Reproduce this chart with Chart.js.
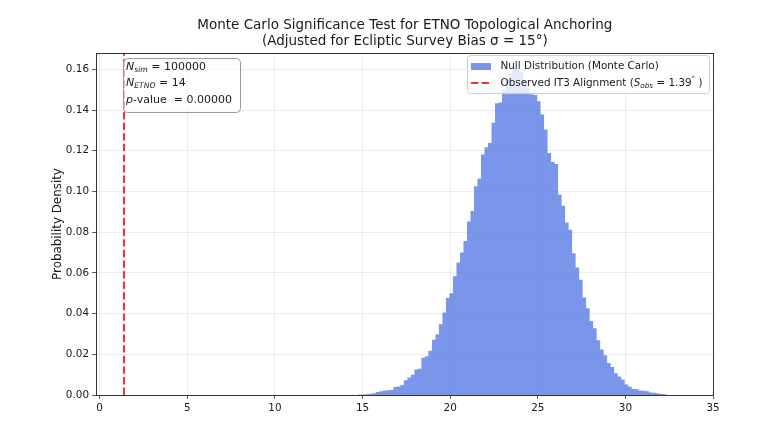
<!DOCTYPE html>
<html>
<head>
<meta charset="utf-8">
<script src="https://cdn.jsdelivr.net/npm/chart.js@4.4.1/dist/chart.umd.min.js"></script>
<style>
  html, body { margin: 0; padding: 0; background: #fff; }
  #wrap { width: 783px; height: 435px; }
</style>
</head>
<body>
<div id="wrap"><canvas id="mcChart"></canvas></div>
<script>
/** Monte Carlo null distribution (density per 0.2 bin) */
const binStart = 14.76;
const binWidth = 0.2;
const nullDensity = [
  0.0002, 0.0003, 0.0004, 0.0006, 0.0009, 0.0015, 0.0019, 0.0022, 0.0023, 0.0025,
  0.0039, 0.0042, 0.0049, 0.0072, 0.0086, 0.0100, 0.0125, 0.0129, 0.0183, 0.0190,
  0.0217, 0.0271, 0.0299, 0.0348, 0.0405, 0.0476, 0.0500, 0.0583, 0.0651, 0.0700,
  0.0756, 0.0852, 0.0904, 0.1025, 0.1063, 0.1181, 0.1217, 0.1238, 0.1337, 0.1433,
  0.1437, 0.1500, 0.1550, 0.1580, 0.1610, 0.1600, 0.1585, 0.1545, 0.1510, 0.1478,
  0.1474, 0.1443, 0.1378, 0.1304, 0.1189, 0.1145, 0.1135, 0.0984, 0.0930, 0.0848,
  0.0812, 0.0697, 0.0626, 0.0566, 0.0479, 0.0426, 0.0363, 0.0328, 0.0269, 0.0223,
  0.0195, 0.0157, 0.0137, 0.0107, 0.0091, 0.0076, 0.0051, 0.0041, 0.0030, 0.0028,
  0.0022, 0.0021, 0.0019, 0.0012, 0.0011, 0.0009, 0.0005, 0.0004,
];
const observedS = 1.39;
const nSim = 100000;
const nEtno = 14;
const pValue = 0.0;

const xTicks = [0, 5, 10, 15, 20, 25, 30, 35];
const yTicks = [0, 0.02, 0.04, 0.06, 0.08, 0.1, 0.12, 0.14, 0.16];
const xMin = -0.21;
const xMax = 35;
const yMax = 0.168;

const FONT = '"DejaVu Sans", sans-serif';
const TEXT = '#1a1a1a';

// step outline of the histogram: one point per left bin edge + closing edge
const histPoints = nullDensity.map((h, i) => ({ x: binStart + i * binWidth, y: h }));
histPoints.push({ x: binStart + nullDensity.length * binWidth, y: 0 });

// text with italic / subscript pieces (mathtext look-alike)
function drawRich(ctx, x, y, runs, size) {
  runs.forEach((r) => {
    const s = r.sub || r.sup ? size * 0.7 : size;
    ctx.font = (r.italic ? 'italic ' : '') + s + 'px ' + FONT;
    const dy = r.sub ? size * 0.28 : r.sup ? -size * 0.35 : 0;
    ctx.fillText(r.t, x, y + dy);
    x += ctx.measureText(r.t).width;
  });
}

function roundRect(ctx, x, y, w, h, r) {
  ctx.beginPath();
  ctx.moveTo(x + r, y);
  ctx.arcTo(x + w, y, x + w, y + h, r);
  ctx.arcTo(x + w, y + h, x, y + h, r);
  ctx.arcTo(x, y + h, x, y, r);
  ctx.arcTo(x, y, x + w, y, r);
  ctx.closePath();
}

/** axes frame (all four spines) */
const framePlugin = {
  id: 'frame',
  afterDatasetsDraw(chart) {
    const { ctx, chartArea: a } = chart;
    ctx.save();
    ctx.strokeStyle = '#333';
    ctx.lineWidth = 1;
    ctx.strokeRect(Math.round(a.left) + 0.5, Math.round(a.top) + 0.5,
      Math.round(a.right - a.left), Math.round(a.bottom - a.top));
    ctx.restore();
  },
};

/** legend + stats box */
const overlayPlugin = {
  id: 'overlay',
  afterDraw(chart) {
    const { ctx, chartArea: a } = chart;
    const ds = chart.data.datasets;
    ctx.save();
    ctx.textBaseline = 'middle';
    ctx.textAlign = 'left';

    // legend
    const lx = a.right - 246, ly = a.top + 2, lw = 242, lh = 38;
    roundRect(ctx, lx + 0.5, ly + 0.5, lw, lh, 3);
    ctx.fillStyle = 'rgba(255,255,255,0.8)';
    ctx.fill();
    ctx.strokeStyle = '#cccccc';
    ctx.lineWidth = 1;
    ctx.stroke();

    ctx.fillStyle = ds[0].backgroundColor;
    ctx.fillRect(lx + 4, ly + 8, 20, 7);
    ctx.strokeStyle = ds[1].borderColor;
    ctx.lineWidth = 2;
    ctx.setLineDash([7.4, 3.2]);
    ctx.beginPath();
    ctx.moveTo(lx + 4, ly + 28);
    ctx.lineTo(lx + 24, ly + 28);
    ctx.stroke();
    ctx.setLineDash([]);

    ctx.fillStyle = TEXT;
    drawRich(ctx, lx + 33.5, ly + 11.5, [{ t: ds[0].label }], 10.4);
    drawRich(ctx, lx + 33.5, ly + 28, [
      { t: 'Observed IT3 Alignment (' },
      { t: 'S', italic: true },
      { t: 'obs', italic: true, sub: true },
      { t: ' = ' + observedS.toFixed(2) },
      { t: '\u00b0', sup: true },
      { t: ' )' },
    ], 10.4);

    // stats box
    const bx = a.left + 27, by = a.top + 5, bw = 117, bh = 54;
    roundRect(ctx, bx + 0.5, by + 0.5, bw, bh, 4);
    ctx.fillStyle = 'rgba(255,255,255,0.6)';
    ctx.fill();
    ctx.strokeStyle = '#999';
    ctx.lineWidth = 1;
    ctx.stroke();

    ctx.fillStyle = TEXT;
    drawRich(ctx, bx + 3, by + 9, [
      { t: 'N', italic: true }, { t: 'sim', italic: true, sub: true }, { t: ' = ' + nSim },
    ], 11);
    drawRich(ctx, bx + 3, by + 25, [
      { t: 'N', italic: true }, { t: 'ETNO', italic: true, sub: true }, { t: ' = ' + nEtno },
    ], 11);
    drawRich(ctx, bx + 3, by + 42.5, [
      { t: 'p', italic: true }, { t: '-value  = ' + pValue.toFixed(5) },
    ], 11);
    ctx.restore();
  },
};

const mcChart = new Chart(document.getElementById('mcChart'), {
  type: 'line',
  data: {
    datasets: [
      {
        label: 'Null Distribution (Monte Carlo)',
        data: histPoints,
        stepped: 'before',
        fill: 'origin',
        backgroundColor: 'rgba(65, 105, 225, 0.7)',
        borderWidth: 0,
        pointRadius: 0,
      },
      {
        label: 'Observed IT3 Alignment',
        data: [{ x: observedS, y: 0 }, { x: observedS, y: yMax }],
        borderColor: '#f03232',
        borderWidth: 2,
        borderDash: [7.4, 3.2],
        pointRadius: 0,
        fill: false,
      },
    ],
  },
  options: {
    responsive: true,
    maintainAspectRatio: false,
    animation: false,
    // left pad + empty right axis keep the title centred over the plot
    layout: { padding: { left: 26.6, right: 0, top: 0, bottom: 0 } },
    plugins: {
      legend: { display: false },
      tooltip: { enabled: false },
      title: {
        display: true,
        text: [
          'Monte Carlo Significance Test for ETNO Topological Anchoring',
          '(Adjusted for Ecliptic Survey Bias \u03c3 = 15\u00b0)',
        ],
        color: TEXT,
        font: { family: FONT, size: 13.5, weight: 'normal', lineHeight: 1.12 },
        padding: { top: 18.4, bottom: 4.4 },
      },
    },
    scales: {
      x: {
        type: 'linear',
        min: xMin,
        max: xMax,
        afterBuildTicks: (s) => { s.ticks = xTicks.map((v) => ({ value: v })); },
        afterFit: (s) => { s.height = 40; },
        ticks: {
          color: TEXT,
          font: { family: FONT, size: 10.4 },
          padding: 3,
          maxRotation: 0,
          autoSkip: false,
        },
        grid: { color: 'rgba(0,0,0,0.09)', lineWidth: 0.8, tickColor: '#333', tickLength: 4 },
        border: { display: false },
      },
      y: {
        min: 0,
        max: yMax,
        afterBuildTicks: (s) => { s.ticks = yTicks.map((v) => ({ value: v })); },
        afterFit: (s) => { s.width = 69.4; },
        ticks: {
          color: TEXT,
          font: { family: FONT, size: 10.4 },
          padding: 3,
          callback: (v) => Number(v).toFixed(2),
        },
        grid: { color: 'rgba(0,0,0,0.09)', lineWidth: 0.8, tickColor: '#333', tickLength: 4 },
        border: { display: false },
        title: {
          display: true,
          text: 'Probability Density',
          color: TEXT,
          font: { family: FONT, size: 11.9 },
          padding: { top: 24.3, bottom: 0 },
        },
      },
      yRight: {
        position: 'right',
        display: true,
        afterFit: (s) => { s.width = 70; },
        ticks: { display: false },
        grid: { display: false },
        border: { display: false },
      },
    },
  },
  plugins: [framePlugin, overlayPlugin],
});
</script>
</body>
</html>
